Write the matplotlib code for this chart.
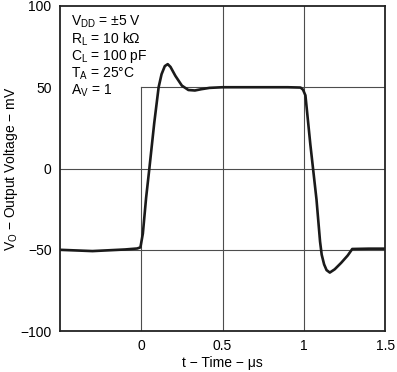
import numpy as np
import matplotlib.pyplot as plt

plt.rcParams['font.family'] = ['Liberation Sans', 'DejaVu Sans']
plt.rcParams['mathtext.fontset'] = 'custom'
plt.rcParams['mathtext.rm'] = 'Liberation Sans'
plt.rcParams['mathtext.it'] = 'Liberation Sans:italic'

# datos
tiempo = [-0.5, -0.3, -0.1, -0.025, -0.005, 0.01, 0.03, 0.05, 0.08, 0.107,
          0.125, 0.145, 0.163, 0.18, 0.21, 0.25, 0.29, 0.33, 0.37, 0.42,
          0.5, 0.7, 0.9, 0.98, 0.995, 1.01, 1.04, 1.078, 1.10, 1.11,
          1.125, 1.14, 1.16, 1.19, 1.23, 1.27, 1.298, 1.4, 1.5]
vout = [-50, -50.8, -49.8, -49.2, -48.5, -40, -18, 0, 28, 50,
        58, 63, 64.2, 62.5, 57, 51, 48.3, 48, 48.8, 49.6,
        50, 50, 50, 49.8, 48.5, 45, 15, -19, -45, -53,
        -59, -62.5, -64, -62, -58, -53.5, -49.5, -49.3, -49.3]

condiciones = [r'V$_{\rm DD}$ = ±5 V', r'R$_{\rm L}$ = 10 kΩ',
               r'C$_{\rm L}$ = 100 pF', r'T$_{\rm A}$ = 25°C', r'A$_{\rm V}$ = 1']

fig = plt.figure(figsize=(3.97, 3.72), dpi=100)
ax = fig.add_axes([0.151, 0.110, 0.819, 0.874])
ax.set_xlim(-0.5, 1.5)
ax.set_ylim(-100, 100)

col_rej = '#4d4d4d'
lw_rej = 0.8
# rejilla (incluye el pulso de entrada)
ax.axvline(0.5, color=col_rej, lw=lw_rej)
ax.axvline(1.0, color=col_rej, lw=lw_rej)
ax.plot([0, 0], [-100, 50], color=col_rej, lw=lw_rej)
ax.axhline(0, color=col_rej, lw=lw_rej)
ax.axhline(-50, color=col_rej, lw=lw_rej)
ax.plot([0, 1.5], [50, 50], color=col_rej, lw=lw_rej)

ax.plot(tiempo, vout, color='#1a1a1a', lw=1.9, solid_joinstyle='round')

ax.set_xticks([0, 0.5, 1, 1.5])
ax.set_xticklabels(['0', '0.5', '1', '1.5'])
ax.set_yticks([-100, -50, 0, 50, 100])
ax.tick_params(length=0, labelsize=10, pad=6)
for s in ax.spines.values():
    s.set_linewidth(1.3)
    s.set_color('#222222')

ax.set_xlabel('t − Time − μs', fontsize=10, labelpad=2)
ax.set_ylabel(r'V$_{\rm O}$ − Output Voltage − mV', fontsize=10, labelpad=0)

for i, txt in enumerate(condiciones):
    ax.text(0.035, 0.978 - i * 0.0535, txt, transform=ax.transAxes,
            fontsize=10, va='top', ha='left')

fig.savefig('out.png', dpi=100)
